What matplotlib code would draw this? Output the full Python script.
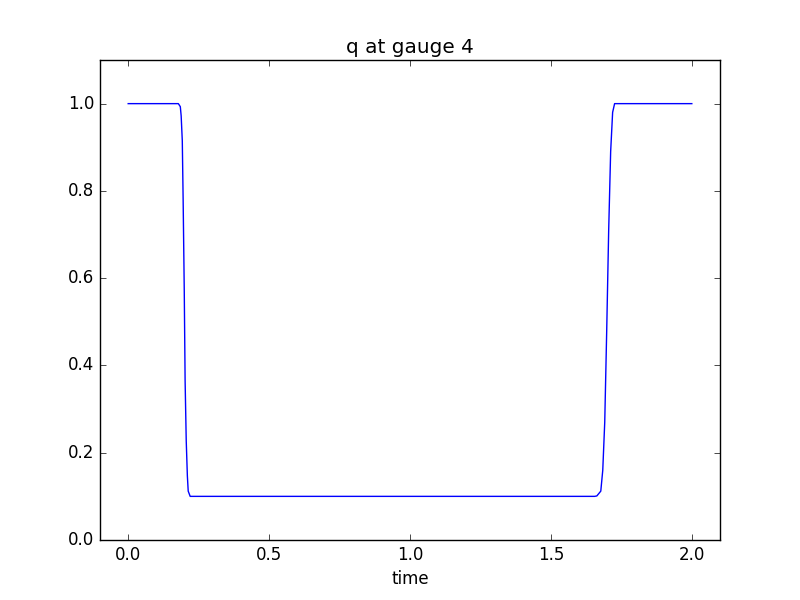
import matplotlib
matplotlib.use('Agg')
import matplotlib.pyplot as plt

# gauge 4 trace (breakpoints of the curve)
time = [0.0, 0.178, 0.185, 0.188, 0.192, 0.195, 0.199, 0.202, 0.206, 0.210, 0.213, 0.220,
        1.655, 1.663, 1.677, 1.684, 1.691, 1.698, 1.705, 1.712, 1.719, 1.726, 2.0]
q = [1.0, 1.0, 0.993, 0.972, 0.915, 0.78, 0.57, 0.365, 0.227, 0.147, 0.112, 0.1,
     0.1, 0.101, 0.112, 0.16, 0.27, 0.48, 0.71, 0.89, 0.98, 1.0, 1.0]

plt.style.use('classic')
plt.rcParams.update({'figure.facecolor': 'white', 'savefig.facecolor': 'white'})

fig = plt.figure(figsize=(8, 6), dpi=100)
ax = fig.add_subplot(111)
ax.plot(time, q, 'b-', linewidth=1.0)
ax.set_xlim(-0.1, 2.1)
ax.set_ylim(0.0, 1.1)
ax.set_xticks([0.0, 0.5, 1.0, 1.5, 2.0])
ax.set_yticks([0.0, 0.2, 0.4, 0.6, 0.8, 1.0])
ax.set_title('q at gauge 4')
ax.set_xlabel('time')
fig.savefig('out.png', dpi=100)
